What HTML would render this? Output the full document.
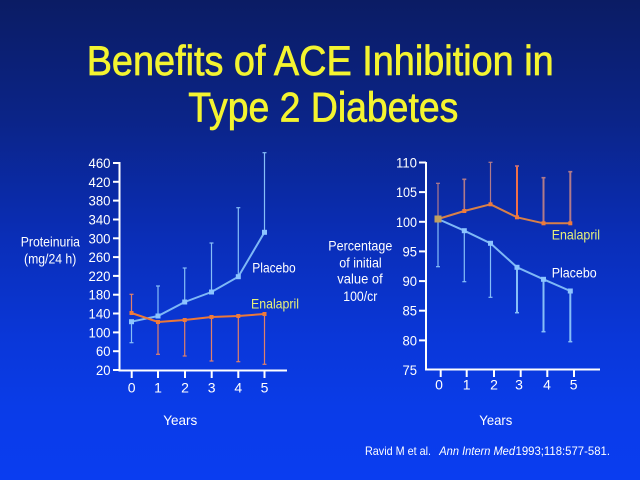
<!DOCTYPE html>
<html>
<head>
<meta charset="utf-8">
<style>
html,body{margin:0;padding:0;}
body{width:640px;height:480px;overflow:hidden;background:linear-gradient(to bottom,#0b1c64 0%,#0b2488 25%,#0a2eb8 50%,#0a37d8 70%,#0a3ce8 85%,#0a3df0 100%);}
svg{display:block;}
text{font-family:"Liberation Sans",Arial,sans-serif;}
</style>
</head>
<body>
<svg width="640" height="480" viewBox="0 0 640 480" xmlns="http://www.w3.org/2000/svg">
  <!-- Title -->
  <text x="86.7" y="75" font-size="42" fill="#f4f430" stroke="#f4f430" stroke-width="0.7" textLength="467" lengthAdjust="spacingAndGlyphs">Benefits of ACE Inhibition in</text>
  <text x="188.3" y="121.7" font-size="42" fill="#f4f430" stroke="#f4f430" stroke-width="0.7" textLength="270" lengthAdjust="spacingAndGlyphs">Type 2 Diabetes</text>

  <!-- ============ LEFT CHART ============ -->
  <g fill="#ffffff" font-size="14">
    <text x="20.7" y="246.7" textLength="59.3" lengthAdjust="spacingAndGlyphs">Proteinuria</text>
    <text x="24" y="263.3" textLength="52.3" lengthAdjust="spacingAndGlyphs">(mg/24 h)</text>
  </g>
  <!-- axes -->
  <g stroke="#ffffff" stroke-width="2" fill="none">
    <line x1="119.5" y1="162" x2="119.5" y2="371"/>
    <line x1="118.5" y1="370.5" x2="287" y2="370.5"/>
  </g>
  <!-- y ticks -->
  <g stroke="#ffffff" stroke-width="2">
    <line x1="113" y1="163" x2="119" y2="163"/>
    <line x1="113" y1="181.8" x2="119" y2="181.8"/>
    <line x1="113" y1="200.6" x2="119" y2="200.6"/>
    <line x1="113" y1="219.5" x2="119" y2="219.5"/>
    <line x1="113" y1="238.3" x2="119" y2="238.3"/>
    <line x1="113" y1="257.1" x2="119" y2="257.1"/>
    <line x1="113" y1="275.9" x2="119" y2="275.9"/>
    <line x1="113" y1="294.7" x2="119" y2="294.7"/>
    <line x1="113" y1="313.5" x2="119" y2="313.5"/>
    <line x1="113" y1="332.4" x2="119" y2="332.4"/>
    <line x1="113" y1="351.2" x2="119" y2="351.2"/>
    <line x1="113" y1="370" x2="119" y2="370"/>
  </g>
  <g fill="#ffffff" font-size="14" text-anchor="end">
    <text x="110.5" y="168" textLength="22" lengthAdjust="spacingAndGlyphs">460</text>
    <text x="110.5" y="186.8" textLength="22" lengthAdjust="spacingAndGlyphs">420</text>
    <text x="110.5" y="205.6" textLength="22" lengthAdjust="spacingAndGlyphs">380</text>
    <text x="110.5" y="224.5" textLength="22" lengthAdjust="spacingAndGlyphs">340</text>
    <text x="110.5" y="243.3" textLength="22" lengthAdjust="spacingAndGlyphs">300</text>
    <text x="110.5" y="262.1" textLength="22" lengthAdjust="spacingAndGlyphs">260</text>
    <text x="110.5" y="280.9" textLength="22" lengthAdjust="spacingAndGlyphs">220</text>
    <text x="110.5" y="299.7" textLength="22" lengthAdjust="spacingAndGlyphs">180</text>
    <text x="110.5" y="318.5" textLength="22" lengthAdjust="spacingAndGlyphs">140</text>
    <text x="110.5" y="337.4" textLength="22" lengthAdjust="spacingAndGlyphs">100</text>
    <text x="110.5" y="356.2" textLength="14.5" lengthAdjust="spacingAndGlyphs">60</text>
    <text x="110.5" y="375" textLength="14.5" lengthAdjust="spacingAndGlyphs">20</text>
  </g>
  <!-- x ticks -->
  <g stroke="#ffffff" stroke-width="2">
    <line x1="131.7" y1="370" x2="131.7" y2="378"/>
    <line x1="158" y1="370" x2="158" y2="378"/>
    <line x1="185" y1="370" x2="185" y2="378"/>
    <line x1="211.7" y1="370" x2="211.7" y2="378"/>
    <line x1="238.3" y1="370" x2="238.3" y2="378"/>
    <line x1="264.5" y1="370" x2="264.5" y2="378"/>
  </g>
  <g fill="#ffffff" font-size="14" text-anchor="middle">
    <text x="131.7" y="392.7">0</text>
    <text x="158" y="392.7">1</text>
    <text x="185" y="392.7">2</text>
    <text x="211.7" y="392.7">3</text>
    <text x="238.3" y="392.7">4</text>
    <text x="264.5" y="392.7">5</text>
    <text x="180.3" y="425" textLength="34" lengthAdjust="spacingAndGlyphs">Years</text>
  </g>
  <!-- placebo error bars -->
  <g stroke="#86bef8" stroke-width="1.2">
    <line x1="131.5" y1="321.7" x2="131.5" y2="342.7"/><line x1="129.5" y1="342.7" x2="133.5" y2="342.7"/>
    <line x1="158" y1="316" x2="158" y2="286"/><line x1="156" y1="286" x2="160" y2="286"/>
    <line x1="184.7" y1="302" x2="184.7" y2="268"/><line x1="182.7" y1="268" x2="186.7" y2="268"/>
    <line x1="211.5" y1="292" x2="211.5" y2="243"/><line x1="209.5" y1="243" x2="213.5" y2="243"/>
    <line x1="238.3" y1="276.7" x2="238.3" y2="207.7"/><line x1="236.3" y1="207.7" x2="240.3" y2="207.7"/>
    <line x1="264.5" y1="232.3" x2="264.5" y2="152.7"/><line x1="262.5" y1="152.7" x2="266.5" y2="152.7"/>
  </g>
  <!-- enalapril error bars -->
  <g stroke="#e0806a" stroke-width="1.2">
    <line x1="131.5" y1="313" x2="131.5" y2="294.3"/><line x1="129.5" y1="294.3" x2="133.5" y2="294.3"/>
    <line x1="158" y1="322" x2="158" y2="354.3"/><line x1="156" y1="354.3" x2="160" y2="354.3"/>
    <line x1="184.7" y1="320" x2="184.7" y2="356"/><line x1="182.7" y1="356" x2="186.7" y2="356"/>
    <line x1="211.5" y1="317" x2="211.5" y2="361"/><line x1="209.5" y1="361" x2="213.5" y2="361"/>
    <line x1="238.3" y1="316" x2="238.3" y2="361.7"/><line x1="236.3" y1="361.7" x2="240.3" y2="361.7"/>
    <line x1="264.5" y1="314" x2="264.5" y2="364.3"/><line x1="262.5" y1="364.3" x2="266.5" y2="364.3"/>
  </g>
  <!-- lines -->
  <polyline points="131.5,321.7 158,316 184.7,302 211.5,292 238.3,276.7 264.5,232.3" fill="none" stroke="#7eb8f6" stroke-width="2"/>
  <polyline points="131.5,313 158,322 184.7,320 211.5,317 238.3,316 264.5,314" fill="none" stroke="#ec7838" stroke-width="2"/>
  <g fill="#8cc4ff">
    <rect x="129" y="319.2" width="5" height="5"/>
    <rect x="155.5" y="313.5" width="5" height="5"/>
    <rect x="182.2" y="299.5" width="5" height="5"/>
    <rect x="209" y="289.5" width="5" height="5"/>
    <rect x="235.8" y="274.2" width="5" height="5"/>
    <rect x="262" y="229.8" width="5" height="5"/>
  </g>
  <g fill="#f07a3a">
    <rect x="129.5" y="311" width="4" height="4"/>
    <rect x="156" y="320" width="4" height="4"/>
    <rect x="182.7" y="318" width="4" height="4"/>
    <rect x="209.5" y="315" width="4" height="4"/>
    <rect x="236.3" y="314" width="4" height="4"/>
    <rect x="262.5" y="312" width="4" height="4"/>
  </g>
  <text x="252.3" y="272.3" font-size="14" fill="#ffffff" textLength="43.4" lengthAdjust="spacingAndGlyphs">Placebo</text>
  <text x="251" y="308.3" font-size="14" fill="#e6f07a" textLength="48" lengthAdjust="spacingAndGlyphs">Enalapril</text>

  <!-- ============ RIGHT CHART ============ -->
  <g fill="#ffffff" font-size="14" text-anchor="middle">
    <text x="360.3" y="250.7" textLength="64" lengthAdjust="spacingAndGlyphs">Percentage</text>
    <text x="360.5" y="267.3" textLength="42.4" lengthAdjust="spacingAndGlyphs">of initial</text>
    <text x="360" y="283.3" textLength="45.4" lengthAdjust="spacingAndGlyphs">value of</text>
    <text x="360.3" y="301" textLength="34" lengthAdjust="spacingAndGlyphs">100/cr</text>
  </g>
  <g stroke="#ffffff" stroke-width="2" fill="none">
    <line x1="426" y1="162" x2="426" y2="370.5"/>
    <line x1="425" y1="369.5" x2="600" y2="369.5"/>
  </g>
  <g stroke="#ffffff" stroke-width="2">
    <line x1="419" y1="162.5" x2="426" y2="162.5"/>
    <line x1="419" y1="192.1" x2="426" y2="192.1"/>
    <line x1="419" y1="221.8" x2="426" y2="221.8"/>
    <line x1="419" y1="251.4" x2="426" y2="251.4"/>
    <line x1="419" y1="281.1" x2="426" y2="281.1"/>
    <line x1="419" y1="310.7" x2="426" y2="310.7"/>
    <line x1="419" y1="340.4" x2="426" y2="340.4"/>
  </g>
  <g fill="#ffffff" font-size="14" text-anchor="end">
    <text x="417" y="167.5" textLength="21" lengthAdjust="spacingAndGlyphs">110</text>
    <text x="417" y="197.1" textLength="21" lengthAdjust="spacingAndGlyphs">105</text>
    <text x="417" y="226.8" textLength="21" lengthAdjust="spacingAndGlyphs">100</text>
    <text x="417" y="256.4" textLength="14.5" lengthAdjust="spacingAndGlyphs">95</text>
    <text x="417" y="286.1" textLength="14.5" lengthAdjust="spacingAndGlyphs">90</text>
    <text x="417" y="315.7" textLength="14.5" lengthAdjust="spacingAndGlyphs">85</text>
    <text x="417" y="345.4" textLength="14.5" lengthAdjust="spacingAndGlyphs">80</text>
    <text x="417" y="375" textLength="14.5" lengthAdjust="spacingAndGlyphs">75</text>
  </g>
  <g stroke="#ffffff" stroke-width="2">
    <line x1="440.7" y1="369" x2="440.7" y2="377"/>
    <line x1="466.7" y1="369" x2="466.7" y2="377"/>
    <line x1="494" y1="369" x2="494" y2="377"/>
    <line x1="520.7" y1="369" x2="520.7" y2="377"/>
    <line x1="547.3" y1="369" x2="547.3" y2="377"/>
    <line x1="574" y1="369" x2="574" y2="377"/>
  </g>
  <g fill="#ffffff" font-size="14" text-anchor="middle">
    <text x="439" y="389.3">0</text>
    <text x="466.7" y="389.3">1</text>
    <text x="494" y="389.3">2</text>
    <text x="519" y="389.3">3</text>
    <text x="547" y="389.3">4</text>
    <text x="573.7" y="389.3">5</text>
    <text x="495.8" y="425" textLength="33" lengthAdjust="spacingAndGlyphs">Years</text>
  </g>
  <!-- placebo error bars -->
  <g stroke="#86bef8">
    <line x1="438" y1="219" x2="438" y2="266.7" stroke-width="1.2"/><line x1="436" y1="266.7" x2="440" y2="266.7" stroke-width="1.2"/>
    <line x1="464.3" y1="230.7" x2="464.3" y2="281.7" stroke-width="1.2"/><line x1="462.3" y1="281.7" x2="466.3" y2="281.7" stroke-width="1.2"/>
    <line x1="490.5" y1="243.3" x2="490.5" y2="297.3" stroke-width="1.2"/><line x1="488.5" y1="297.3" x2="492.5" y2="297.3" stroke-width="1.2"/>
    <line x1="517" y1="267.3" x2="517" y2="312.7" stroke-width="2"/><line x1="515" y1="312.7" x2="519" y2="312.7" stroke-width="1.5"/>
    <line x1="543.5" y1="279.3" x2="543.5" y2="331.7" stroke-width="2"/><line x1="541.5" y1="331.7" x2="545.5" y2="331.7" stroke-width="1.5"/>
    <line x1="570.3" y1="291" x2="570.3" y2="341.7" stroke-width="2"/><line x1="568.3" y1="341.7" x2="572.3" y2="341.7" stroke-width="1.5"/>
  </g>
  <!-- enalapril error bars -->
  <g>
    <line x1="438" y1="219" x2="438" y2="183.3" stroke="#b07a8a" stroke-width="1.2"/><line x1="436" y1="183.3" x2="440" y2="183.3" stroke="#b07a8a" stroke-width="1.2"/>
    <line x1="464.3" y1="211" x2="464.3" y2="179.3" stroke="#b07a8a" stroke-width="1.6"/><line x1="462.3" y1="179.3" x2="466.3" y2="179.3" stroke="#b07a8a" stroke-width="1.6"/>
    <line x1="490.5" y1="204.3" x2="490.5" y2="162.3" stroke="#b07a8a" stroke-width="1.2"/><line x1="488.5" y1="162.3" x2="492.5" y2="162.3" stroke="#b07a8a" stroke-width="1.2"/>
    <line x1="517" y1="217.3" x2="517" y2="166" stroke="#f07048" stroke-width="2"/><line x1="515" y1="166" x2="519" y2="166" stroke="#c07080" stroke-width="1.6"/>
    <line x1="543.5" y1="223.3" x2="543.5" y2="177.7" stroke="#b07a8a" stroke-width="2"/><line x1="541.5" y1="177.7" x2="545.5" y2="177.7" stroke="#b07a8a" stroke-width="1.6"/>
    <line x1="570.3" y1="223.3" x2="570.3" y2="171.7" stroke="#b07a8a" stroke-width="2"/><line x1="568.3" y1="171.7" x2="572.3" y2="171.7" stroke="#b07a8a" stroke-width="1.6"/>
  </g>
  <polyline points="438,219 464.3,230.7 490.5,243.3 517,267.3 543.5,279.3 570.3,291" fill="none" stroke="#7eb8f6" stroke-width="2"/>
  <polyline points="438,219 464.3,211 490.5,204.3 517,217.3 543.5,223.3 570.3,223.3" fill="none" stroke="#d88048" stroke-width="2"/>
  <g fill="#8cc4ff">
    <rect x="461.8" y="228.2" width="5" height="5"/>
    <rect x="488" y="240.8" width="5" height="5"/>
    <rect x="514.5" y="264.8" width="5" height="5"/>
    <rect x="541" y="276.8" width="5" height="5"/>
    <rect x="567.8" y="288.5" width="5" height="5"/>
  </g>
  <g fill="#f07a3a">
    <rect x="462.3" y="209" width="4" height="4"/>
    <rect x="488.5" y="202.3" width="4" height="4"/>
    <rect x="515" y="215.3" width="4" height="4"/>
    <rect x="541.5" y="221.3" width="4" height="4"/>
    <rect x="568.3" y="221.3" width="4" height="4"/>
  </g>
  <rect x="434.5" y="215.5" width="7" height="7" fill="#c0a060"/>
  <text x="551.7" y="239.3" font-size="14" fill="#e6f07a" textLength="48.3" lengthAdjust="spacingAndGlyphs">Enalapril</text>
  <text x="551.7" y="277.3" font-size="14" fill="#ffffff" textLength="45" lengthAdjust="spacingAndGlyphs">Placebo</text>

  <!-- Footnote -->
  <g fill="#ffffff" font-size="12">
    <text x="365" y="455" textLength="66" lengthAdjust="spacingAndGlyphs">Ravid M  et al.</text>
    <text x="439.3" y="455" font-style="italic" textLength="75.7" lengthAdjust="spacingAndGlyphs">Ann Intern Med</text>
    <text x="515.5" y="455" textLength="94.5" lengthAdjust="spacingAndGlyphs">1993;118:577-581.</text>
  </g>
</svg>
</body>
</html>
